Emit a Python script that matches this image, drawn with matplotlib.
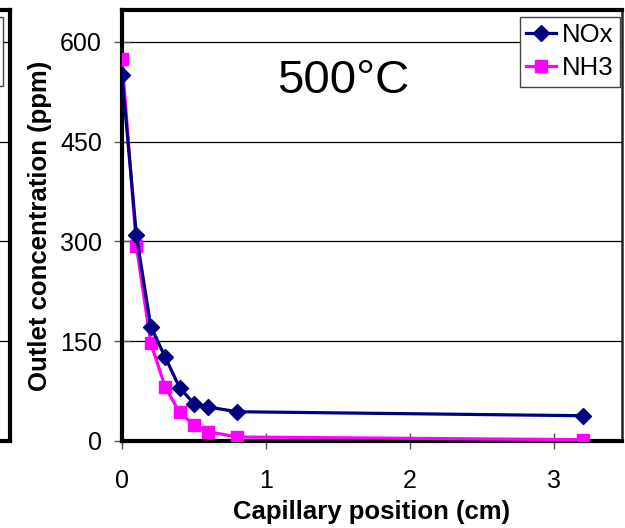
import numpy as np
import matplotlib
matplotlib.use("Agg")
import matplotlib.pyplot as plt
from matplotlib.patches import Rectangle

# capillary position (cm) and outlet concentrations (ppm)
position = [0.0, 0.1, 0.2, 0.3, 0.4, 0.5, 0.6, 0.8, 3.2]
nox = [550, 309, 172, 126, 80, 56, 51, 44, 38]
nh3 = [574, 293, 147, 81, 43, 24, 14, 6, 2]
y_ticks = [0, 150, 300, 450, 600]
x_ticks = [0, 1, 2, 3]

plt.rcParams['font.family'] = ['Liberation Sans', 'DejaVu Sans']

W, H = 625, 528
fig = plt.figure(figsize=(W / 100, H / 100), dpi=100)

x0, x1, y0, y1 = 122, 622, 441, 10
ax = fig.add_axes([x0 / W, 1 - y0 / H, (x1 - x0) / W, (y0 - y1) / H])

ax.plot(position, nox, color='#000080', lw=2.3, marker='D', ms=8,
        label='NOx', zorder=4)
ax.plot(position, nh3, color='#FF00FF', lw=2.3, marker='s', ms=9,
        label='NH3', zorder=3)

ax.set_xlim(0, 3.47)
ax.set_ylim(0, 648)
ax.set_xticks(x_ticks)
ax.set_yticks(y_ticks)
ax.tick_params(axis='both', labelsize=18, direction='inout', length=11,
               width=1, color='#555555')
ax.tick_params(axis='x', pad=15)
ax.tick_params(axis='y', pad=9)
ax.yaxis.grid(True, color='black', lw=0.9)
ax.set_axisbelow(True)

for s in ['left', 'bottom', 'top']:
    ax.spines[s].set_linewidth(3)
    ax.spines[s].set_color('black')
ax.spines['right'].set_linewidth(1.8)
ax.spines['right'].set_color('#222222')

ax.set_xlabel('Capillary position (cm)', fontsize=18.5, fontweight='bold',
              labelpad=5)
ax.set_ylabel('Outlet concentration (ppm)', fontsize=18.5, fontweight='bold',
              labelpad=6)

ax.text(0.442, 0.836, '500°C', transform=ax.transAxes, fontsize=34,
        ha='center', va='center')

leg = ax.legend(loc='upper right', bbox_to_anchor=(0.996, 0.984),
                fontsize=18.5, frameon=True, fancybox=False, framealpha=1,
                edgecolor='#444444', handlelength=1.15, handletextpad=0.25,
                borderpad=0.25, borderaxespad=0, labelspacing=0.35,
                handleheight=0.7)
leg.get_frame().set_linewidth(1)

# right edge of the neighbouring chart, cut off at the left border
ax0 = fig.add_axes([-125 / W, 1 - y0 / H, 134.5 / W, (y0 - y1) / H])
ax0.set_ylim(0, 648)
ax0.set_xlim(0, 1)
ax0.set_yticks(y_ticks)
ax0.set_xticks([])
ax0.yaxis.grid(True, color='black', lw=0.9)
ax0.tick_params(axis='y', length=0, labelleft=False)
ax0.spines['left'].set_visible(False)
for s in ['right', 'top', 'bottom']:
    ax0.spines[s].set_linewidth(3)
ax0.add_patch(Rectangle((0.5, (y0 - 86) / (y0 - y1)), 0.452,
                        (86 - 17) / (y0 - y1), transform=ax0.transAxes,
                        facecolor='white', edgecolor='#444444', lw=1,
                        zorder=5))

fig.savefig('out.png', dpi=100)
